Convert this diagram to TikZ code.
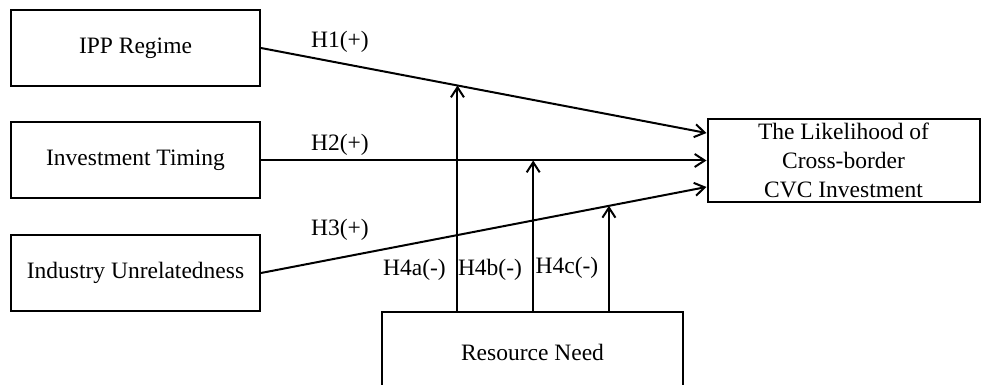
\documentclass[tikz,border=0pt]{standalone}
\usepackage{fontspec}
\setmainfont{Liberation Serif}
\usepackage{tikz}
\usetikzlibrary{positioning, calc, arrows.meta}
\tikzset{
	varbox/.style={draw, line width=1pt, inner sep=0pt, minimum width=124.5pt, minimum height=38pt, font=\fontsize{11.75}{14.5}\selectfont}
}
\tikzset{
	hyptext/.style={inner sep=0pt, font=\fontsize{11.75}{14.5}\selectfont}
}
\tikzset{
	effect/.style={line width=1pt, -{Straight Barb[length=5pt, width=6.5pt, line width=1pt]}}
}

\begin{document}
\begin{tikzpicture}[x=0.5pt, y=-0.5pt]

			\useasboundingbox (0,0) rectangle (981,385);

			\begin{scope}
				\node[varbox] (ipp) at (135.5,48) {IPP Regime};
				\node[varbox] (timing) at (135.5,160.5) {Investment Timing};
				\node[varbox] (unrel) at (135.5,273) {Industry Unrelatedness};
			\end{scope}

			\node[varbox, minimum width=136pt, minimum height=41.5pt, align=center] (outcome) at (843.5,160.5)
				{The Likelihood of\\Cross-border\\CVC Investment};
			\node[varbox, minimum width=150.5pt, minimum height=40pt] (need) at (532.5,352) {Resource Need};

			% direct effects
			\draw[effect] (ipp.east) -- coordinate[pos=0.441] (m1) ([yshift=13.75pt]outcome.west);
			\draw[effect] (timing.east) -- coordinate[pos=0.611] (m2) (outcome.west);
			\draw[effect] (unrel.east) -- coordinate[pos=0.781] (m3) ([yshift=-13.25pt]outcome.west);

			% moderation
			\draw[effect] (need.north -| m1) -- (m1);
			\draw[effect] (need.north -| m2) -- (m2);
			\draw[effect] (need.north -| m3) -- (m3);

			\node[hyptext] (h1) at (340,42) {H1(+)};
			\node[hyptext] (h2) at (340,145) {H2(+)};
			\node[hyptext] (h3) at (340,230) {H3(+)};
			\node[hyptext] (h4a) at (414.5,270) {H4a(-)};
			\node[hyptext] (h4b) at (490,270) {H4b(-)};
			\node[hyptext] (h4c) at (567,268) {H4c(-)};

		\end{tikzpicture}
\end{document}
